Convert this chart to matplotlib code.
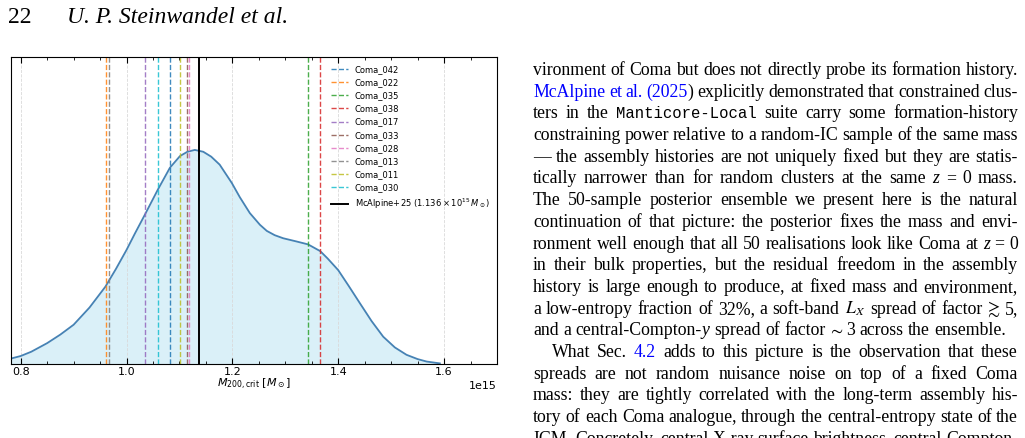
import numpy as np
import matplotlib
matplotlib.use("Agg")
import matplotlib.pyplot as plt
from matplotlib.ticker import MultipleLocator, AutoMinorLocator

# KDE of the posterior M200c, mass in 1e15 Msun
mass = np.array([0.780, 0.800, 0.820, 0.850, 0.875, 0.900, 0.930, 0.960, 0.980,
                 1.000, 1.016, 1.035, 1.059, 1.082, 1.101, 1.115, 1.129, 1.145,
                 1.160, 1.176, 1.199, 1.214, 1.233, 1.252, 1.265, 1.280, 1.296,
                 1.320, 1.343, 1.366, 1.380, 1.400, 1.420, 1.441, 1.463, 1.485,
                 1.507, 1.529, 1.550, 1.567, 1.592]) * 1e15
density = np.array([0.085, 0.13, 0.20, 0.34, 0.48, 0.64, 0.92, 1.26, 1.55,
                    1.86, 2.13, 2.44, 2.84, 3.20, 3.39, 3.46, 3.49, 3.46,
                    3.38, 3.25, 2.95, 2.72, 2.46, 2.27, 2.17, 2.10, 2.05,
                    2.00, 1.95, 1.84, 1.72, 1.53, 1.27, 0.99, 0.70, 0.445,
                    0.27, 0.15, 0.08, 0.04, 0.01])

coma_names = ["Coma_042", "Coma_022", "Coma_035", "Coma_038", "Coma_017",
              "Coma_033", "Coma_028", "Coma_013", "Coma_011", "Coma_030"]
coma_mass = np.array([1.082, 0.961, 1.3435, 1.366, 1.035,
                      1.114, 1.118, 0.966, 1.101, 1.059]) * 1e15
mcalpine_mass = 1.136e15

header_num = "22"
header_title = "U. P. Steinwandel et al."

body_lines = [
    "vironment of Coma but does not directly probe its formation history.",
    "b:McAlpine b:et b:al. b:(2025|n:) explicitly demonstrated that constrained clus-",
    "ters in the m:Manticore-Local suite carry some formation-history",
    "constraining power relative to a random-IC sample of the same mass",
    "\u2014 the assembly histories are not uniquely fixed but they are statis-",
    "tically narrower than for random clusters at the same i:z = 0 mass.",
    "The 50-sample posterior ensemble we present here is the natural",
    "continuation of that picture: the posterior fixes the mass and envi-",
    "ronment well enough that all 50 realisations look like Coma at i:z = 0",
    "in their bulk properties, but the residual freedom in the assembly",
    "history is large enough to produce, at fixed mass and environment,",
    "a low-entropy fraction of 32%, a soft-band x:$L_X$ spread of factor \u2273 5,",
    "and a central-Compton-|i:y spread of factor \u223c 3 across the ensemble.",
    "What Sec. b:4.2 adds to this picture is the observation that these",
    "spreads are not random nuisance noise on top of a fixed Coma",
    "mass: they are tightly correlated with the long-term assembly his-",
    "tory of each Coma analogue, through the central-entropy state of the",
    "ICM. Concretely, central X-ray surface brightness, central Compton-",
]

W, H = 1025, 438
fig = plt.figure(figsize=(W / 100, H / 100), dpi=100)

# ---- the chart ----
ax = fig.add_axes([11 / W, 1 - 364 / H, 486 / W, 306.7 / H])
ax.fill_between(mass, density, 0, color="skyblue", alpha=0.3, lw=0)
ax.plot(mass, density, color="steelblue", lw=1.3)
for name, m, c in zip(coma_names, coma_mass, ["C%d" % i for i in range(10)]):
    ax.axvline(m, color=c, ls="--", lw=1.0, alpha=0.85, label=name)
ax.axvline(mcalpine_mass, color="black", lw=1.4,
           label=r"McAlpine+25 ($1.136\times10^{15}\,M_\odot$)")

ax.set_xlim(0.7817e15, 1.700e15)
ax.set_ylim(0, 5)
ax.set_yticks([])
ax.xaxis.set_major_locator(MultipleLocator(0.2e15))
ax.xaxis.set_minor_locator(AutoMinorLocator(4))
ax.tick_params(axis="x", which="both", direction="in", top=True, labelsize=8, pad=2)
ax.tick_params(axis="x", which="major", length=4)
ax.tick_params(axis="x", which="minor", length=2)
ax.xaxis.get_offset_text().set_fontsize(8)
ax.grid(axis="x", which="major", color="0.85", ls="--", lw=0.6)
ax.set_xlabel(r"$M_{200,\rm crit}$ [$M_\odot$]", fontsize=8, labelpad=0)
ax.legend(loc="upper right", fontsize=6, frameon=False)

# ---- page header ----
fig.text(8 / W, 1 - 23 / H, header_num, family="Liberation Serif",
         fontsize=17, va="baseline")
fig.text(67 / W, 1 - 23 / H, header_title, family="Liberation Serif",
         style="italic", fontsize=17, va="baseline")

# ---- right column text, justified by hand ----
fs = 12.8
serif = ["Liberation Serif", "STIXGeneral", "DejaVu Serif"]
styles = {
    "n": dict(family=serif, fontsize=fs),
    "b": dict(family=serif, fontsize=fs, color="blue"),
    "i": dict(family=serif, fontsize=fs, style="italic"),
    "m": dict(family="Liberation Mono", fontsize=fs * 0.88),
    "x": dict(family=serif, fontsize=fs, math_fontfamily="stix"),
}
renderer = fig.canvas.get_renderer()
x_left, x_right = 533, 1018
y0, pitch = 75, 21.7
space = 0.25 * fs * 100 / 72


def split_word(word):
    out = []
    for piece in word.split("|"):
        if len(piece) > 1 and piece[1] == ":" and piece[0] in styles:
            out.append((piece[2:], piece[0]))
        else:
            out.append((piece, "n"))
    return out


for i, line in enumerate(body_lines):
    y = 1 - (y0 + i * pitch) / H
    x0 = x_left + (19 if i == 13 else 0)
    words = []
    for word in line.split(" "):
        objs = []
        wsum = 0
        for txt, kind in split_word(word):
            if txt == "":
                continue
            t = fig.text(0, y, txt, va="baseline", **styles[kind])
            w = t.get_window_extent(renderer).width
            objs.append((t, w))
            wsum += w
        words.append((objs, wsum))
    total = sum(w for _, w in words)
    if i == 12:
        gap = space
    else:
        gap = (x_right - x0 - total) / (len(words) - 1)
    x = x0
    for objs, wsum in words:
        for t, w in objs:
            t.set_x(x / W)
            x += w
        x += gap

fig.savefig("out.png", dpi=100)
